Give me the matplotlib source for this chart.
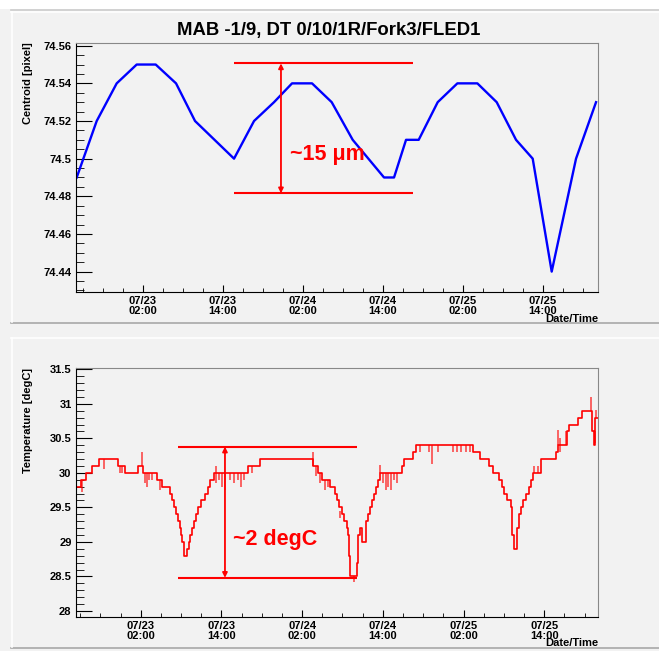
import matplotlib.pyplot as plt
from matplotlib.lines import Line2D
from matplotlib.patches import Rectangle
from matplotlib.ticker import MultipleLocator, FuncFormatter

plt.rcParams['font.family'] = ['Liberation Sans', 'DejaVu Sans']

# hours counted from 07/23 00:00
tick_hours = [2, 14, 26, 38, 50, 62]
tick_labels = ['07/23\n02:00', '07/23\n14:00', '07/24\n02:00',
               '07/24\n14:00', '07/25\n02:00', '07/25\n14:00']

# centroid (top)
cent_t = [-7.9, -4.9, -1.9, 1.1, 3.95, 7.0, 9.85, 15.7, 18.7, 21.7, 24.4, 27.4, 30.35,
          33.5, 38.2, 39.7, 41.5, 43.4, 46.25, 49.2, 52.2, 55.1, 58.0, 60.5, 63.35, 67.0, 70.0]
cent_v = [74.49, 74.52, 74.54, 74.55, 74.55, 74.54, 74.52, 74.50, 74.52, 74.53, 74.54, 74.54, 74.53,
          74.51, 74.49, 74.49, 74.51, 74.51, 74.53, 74.54, 74.54, 74.53, 74.51, 74.50, 74.44, 74.50, 74.53]

# temperature (bottom), step levels
temp_t = [-7.7, -6.87, -6.13, -5.28, -4.2, -1.33, -0.33, 1.64, 2.39, 4.38, 5.21, 6.36, 6.6, 7.0,
          7.25, 7.5, 7.8, 8.0, 8.19, 8.39, 8.88, 9.13, 9.38, 9.67, 9.97, 10.27, 10.56, 10.96,
          11.56, 11.96, 12.3, 12.94, 17.9, 19.73, 27.57, 28.4, 28.9, 30.14, 30.88, 31.23, 31.52,
          31.88, 32.27, 32.62, 32.82, 33.0, 33.1, 34.11, 34.35, 34.6, 34.85, 35.45, 35.79, 36.09,
          36.38, 36.64, 36.93, 37.28, 37.57, 40.8, 41.14, 42.43, 42.93, 51.44, 52.44, 53.78,
          54.42, 55.31, 55.67, 56.0, 56.41, 57.0, 57.24, 57.45, 57.89, 58.19, 58.49, 58.87,
          59.28, 59.77, 60.02, 60.36, 61.46, 63.74, 63.99, 65.33, 65.67, 67.05, 67.65, 69.13,
          69.39, 69.58, 70.03]
temp_v = [29.8, 29.9, 30.0, 30.1, 30.2, 30.1, 30.0, 30.1, 30.0, 29.9, 29.8, 29.7, 29.6, 29.5,
          29.4, 29.3, 29.2, 29.1, 29.0, 28.8, 28.9, 29.0, 29.1, 29.2, 29.3, 29.4, 29.5, 29.6,
          29.7, 29.8, 29.9, 30.0, 30.1, 30.2, 30.1, 30.0, 29.9, 29.8, 29.7, 29.6, 29.5,
          29.4, 29.3, 29.2, 29.1, 28.8, 28.5, 28.7, 29.1, 29.2, 29.0, 29.3, 29.4, 29.5,
          29.6, 29.7, 29.8, 29.9, 30.0, 30.1, 30.2, 30.3, 30.4, 30.3, 30.2, 30.1,
          30.0, 29.9, 29.8, 29.7, 29.6, 29.5, 29.1, 28.9, 29.2, 29.4, 29.5, 29.6,
          29.7, 29.8, 29.9, 30.0, 30.2, 30.3, 30.4, 30.6, 30.7, 30.8, 30.9, 30.6,
          30.4, 30.8, 30.8]

# short noise spikes on the temperature trace
spike_t = [-6.77, -3.4, -1.1, -0.8, 2.15, 2.6, 2.9, 3.3, 3.7, 4.8, 13.2, 13.6, 14.1, 14.6, 15.3,
           15.8, 16.4, 16.9, 17.4, 18.5, 27.66, 28.0, 28.6, 29.4, 29.8, 31.7, 33.7, 37.6, 38.0,
           38.4, 38.8, 39.2, 39.6, 40.1, 43.5, 44.8, 45.35, 46.2, 48.5, 49.0, 49.6, 50.3, 51.0,
           60.5, 61.0, 64.08, 64.4, 65.18, 68.9, 69.49, 69.75]
spike_lo = [29.72, 30.05, 30.0, 30.0, 30.1, 29.85, 29.8, 29.9, 29.9, 29.75, 29.85, 29.9, 29.8, 29.75, 29.9,
            29.85, 29.9, 29.8, 29.9, 30.0, 30.1, 29.95, 29.85, 29.75, 29.8, 29.35, 28.42, 30.0, 29.85,
            29.75, 29.8, 29.75, 29.9, 29.85, 30.3, 30.3, 30.13, 30.3, 30.3, 30.3, 30.3, 30.3, 30.3,
            30.0, 30.0, 30.4, 30.3, 30.4, 30.9, 30.43, 30.8]
spike_hi = [29.9, 30.2, 30.1, 30.1, 30.3, 30.0, 30.0, 30.0, 30.0, 29.9, 30.1, 30.0, 30.0, 30.0, 30.0,
            30.0, 30.0, 30.0, 30.0, 30.1, 30.3, 30.1, 30.0, 29.9, 29.9, 29.45, 28.5, 30.12, 30.0,
            30.0, 30.0, 30.0, 30.0, 30.0, 30.4, 30.4, 30.4, 30.4, 30.4, 30.4, 30.4, 30.4, 30.4,
            30.1, 30.1, 30.62, 30.5, 30.6, 31.1, 30.6, 30.91]

W, H = 659, 651
bg = '#f2f2f2'


def px(x, y):
    # pixel position -> figure fraction
    return x / W, 1 - y / H


fig = plt.figure(figsize=(W / 100, H / 100), dpi=100, facecolor=bg)

# pad borders like the ROOT canvas
fig.add_artist(Rectangle(px(0, 8.5), 1, 8.5 / H, transform=fig.transFigure,
                         facecolor='white', edgecolor='none', zorder=0))
for y0, col in [(9.5, '#cccccc'), (11.5, 'white'), (322.5, '#a8a8a8'),
                (338, 'white'), (647.5, '#a8a8a8')]:
    fig.add_artist(Line2D([11 / W, 1], [1 - y0 / H, 1 - y0 / H], color=col, lw=1.2, zorder=10))
for y0, y1 in [(11.5, 322), (338, 647)]:
    fig.add_artist(Line2D([11.5 / W, 11.5 / W], [1 - y0 / H, 1 - y1 / H], color='white', lw=1.2, zorder=10))

ax1 = fig.add_axes([75.7 / W, 1 - 292.3 / H, 522.6 / W, 249.6 / H], facecolor=bg)
ax2 = fig.add_axes([75.7 / W, 1 - 616.7 / H, 522.6 / W, 249.0 / H], facecolor=bg)

fmt = FuncFormatter(lambda v, pos: f'{round(v, 3):g}')

for ax in (ax1, ax2):
    ax.spines['top'].set_color('#888888')
    ax.spines['right'].set_color('#888888')
    ax.set_xticks(tick_hours)
    ax.set_xticklabels(tick_labels, fontsize=8, fontweight='bold', linespacing=1.0)
    ax.xaxis.set_minor_locator(MultipleLocator(3, offset=2))
    ax.yaxis.set_major_formatter(fmt)
    ax.tick_params(axis='x', which='major', direction='in', length=5, pad=3)
    ax.tick_params(axis='x', which='minor', direction='in', length=2.8)
    ax.tick_params(axis='y', which='major', direction='in', length=11.5, pad=3, labelsize=8)
    ax.tick_params(axis='y', which='minor', direction='in', length=5.8)
    ax.set_xlabel('Date/Time', loc='right', fontsize=8, fontweight='bold')

# --- top: centroid ---
ax1.plot(cent_t, cent_v, color='#0000ff', lw=1.7)
ax1.set_xlim(-8.05, 70.34)
ax1.set_ylim(74.429, 74.5616)
ax1.yaxis.set_major_locator(MultipleLocator(0.02))
ax1.yaxis.set_minor_locator(MultipleLocator(0.005))
for lab in ax1.get_yticklabels():
    lab.set_fontweight('bold')
ax1.set_ylabel('Centroid [pixel]', loc='top', fontsize=8, fontweight='bold')
ax1.yaxis.set_label_coords(-0.081, 1.0)
ax1.xaxis.set_label_coords(1.0, -0.087)

ax1.hlines([74.5506, 74.4816], 15.74, 42.5, color='red', lw=1.5)
ax1.annotate('', xy=(22.74, 74.5506), xytext=(22.74, 74.4816),
             arrowprops=dict(arrowstyle='<|-|>', color='red', lw=1.3,
                             mutation_scale=7, shrinkA=0, shrinkB=0))
ax1.text(24.1, 74.502, '~15 μm', color='red', fontsize=15.5, fontweight='bold',
         ha='left', va='center')

# --- bottom: temperature ---
ax2.step(temp_t, temp_v, where='post', color='red', lw=1.2)
ax2.vlines(spike_t, spike_lo, spike_hi, color='red', lw=1.1, alpha=0.75)
ax2.set_xlim(-7.66, 70.03)
ax2.set_ylim(27.917, 31.523)
ax2.yaxis.set_major_locator(MultipleLocator(0.5))
ax2.yaxis.set_minor_locator(MultipleLocator(0.1))
for lab in ax2.get_yticklabels():
    lab.set_fontweight('bold')
ax2.set_ylabel('Temperature [degC]', loc='top', fontsize=8, fontweight='bold')
ax2.yaxis.set_label_coords(-0.081, 1.0)
ax2.xaxis.set_label_coords(1.0, -0.0855)

ax2.hlines([30.38, 28.48], 7.59, 34.1, color='red', lw=1.5)
ax2.annotate('', xy=(14.53, 30.38), xytext=(14.53, 28.48),
             arrowprops=dict(arrowstyle='<|-|>', color='red', lw=1.3,
                             mutation_scale=7, shrinkA=0, shrinkB=0))
ax2.text(15.77, 29.03, '~2 degC', color='red', fontsize=15.5, fontweight='bold',
         ha='left', va='center')

fig.text(328.7 / W, 1 - 30 / H, 'MAB -1/9, DT 0/10/1R/Fork3/FLED1',
         ha='center', va='center', fontsize=13.3, fontweight='bold')

fig.savefig('out.png', dpi=100, facecolor=fig.get_facecolor())
